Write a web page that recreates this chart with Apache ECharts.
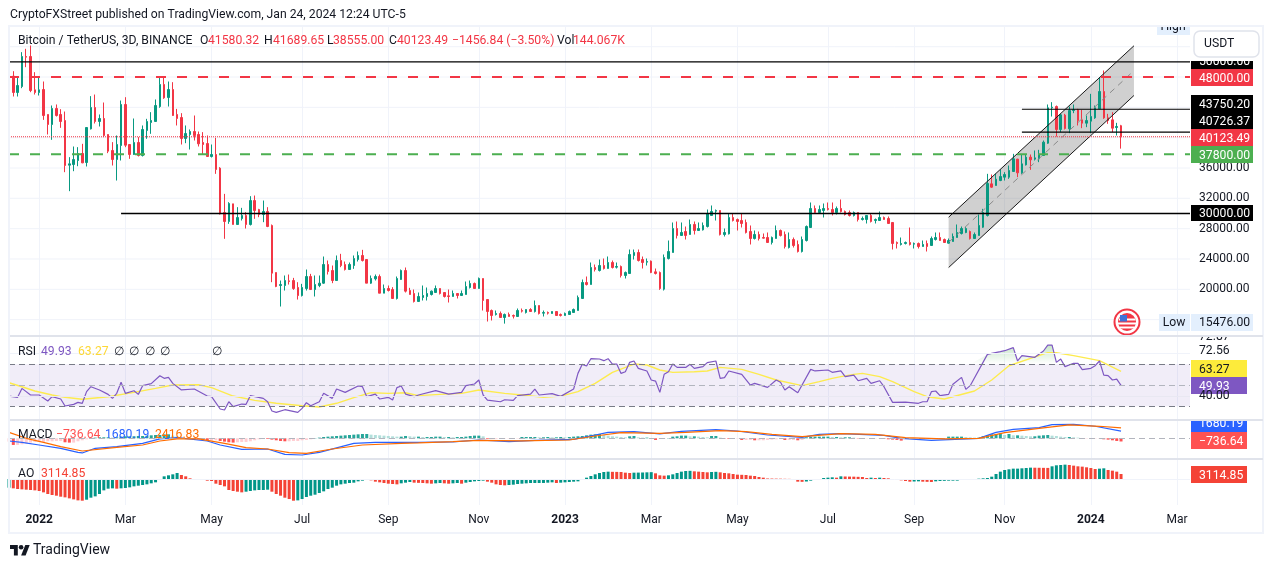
<!DOCTYPE html>
<html>
<head>
<meta charset="utf-8">
<title>BTCUSDT 3D</title>
<script src="https://cdn.jsdelivr.net/npm/echarts@6/dist/echarts.min.js"></script>
<style>
  html, body { margin: 0; padding: 0; background: #fff; }
  #main { width: 1273px; height: 568px; }
</style>
</head>
<body>
<div id="main"></div>
<script>
// [open, close, low, high], one row per 3D bar
const candles = [
  [48420,47760,47540,49300],[48110,45960,45430,48770],[45960,46880,45430,47980],[46750,50710,46530,51280],[50710,50620,49300,51720],
  [50710,46220,46000,52160],[46310,45960,45690,48640],[45960,46310,45560,47890],[46355,42925,42350,47410],[43060,41740,40420,43060],
  [41740,43850,39715,44245],[43850,42925,42790,44380],[43060,42135,41300,43760],[42265,36330,35450,43450],[36375,36550,32945,37430],
  [36460,37120,35580,38835],[36990,37915,36240,38750],[37915,36680,36640,39190],[36725,41340,36200,41340],[41165,43980,41080,45480],
  [43980,42135,41870,45690],[42135,42530,41475,43060],[42530,40290,40070,44640],[40420,38220,37960,40420],[38310,37120,36330,39410],
  [37120,39100,34350,40290],[38970,44380,36990,44900],[44380,39010,38750,45340],[39100,37780,37210,39100],[37780,39365,37735,42530],
  [39365,37650,37520,40070],[37650,41080,37520,41610],[40950,42135,39850,42485],[42000,42265,40510,43365],[42135,44245,42135,45040],
  [44110,47015,43940,48070],[47015,45260,45125,47980],[45300,46355,44110,47410],[46355,42925,42880,47320],[43060,42530,41610,43800],
  [42660,39890,39100,43235],[39890,40550,39275,41610],[40420,40815,38440,41080],[40815,40290,39630,42925],[40420,39190,38835,40815],
  [39365,39100,37780,40730],[39230,37520,37520,40290],[37520,37780,37385,39100],[37780,35800,35230,39980],[35980,29955,29870,36110],
  [30130,28945,26660,32590],[28945,31320,28635,31490],[31275,28550,28550,31275],[28550,29470,28550,30835],[29340,29735,29075,30745],
  [29735,28550,28020,30175],[28550,31710,28415,32285],[31710,30395,29295,32370],[30525,29870,29515,30615],[29870,30260,28855,31710],
  [30260,28285,28200,30835],[28415,22130,20940,28550],[22215,20370,20280,22215],[20500,20630,17730,21160],[20500,21160,19840,21820],
  [21115,21030,20630,21950],[21160,20100,19930,21510],[20240,19180,18650,20940],[19180,20240,19050,20720],[20100,21690,19840,22610],
  [21690,19970,19930,22040],[19970,20630,19050,21820],[20500,20810,20280,21820],[20810,23272,20722,24328],[23272,22349,21953,23800],
  [22481,21162,20810,23140],[21162,23800,21162,24460],[23800,23140,22920,24680],[23272,22613,22481,23668],[22613,23272,22613,23536],
  [23140,24064,22700,24460],[23932,24460,23668,24987],[24460,23800,23668,25207],[23932,20810,20810,23932],[20810,21426,20722,21821],
  [21380,21690,21162,21953],[21690,19491,19491,21953],[19491,20107,19491,20634],[20107,19843,19710,20502],[19975,18787,18787,20283],
  [18787,21426,18655,21690],[21294,22481,21250,22613],[22481,19755,19579,22877],[19843,19315,19315,20195],[19447,18392,18260,19975],
  [18392,19051,18392,19579],[18919,19183,18524,20502],[19051,19447,18524,20239],[19315,19755,19183,19843],[19579,20107,19535,20502],
  [20107,19447,19315,20107],[19579,19051,18919,19623],[19140,19051,18260,19975],[19051,19447,19051,19843],[19447,19183,18787,19447],
  [19183,19447,19183,19843],[19315,20370,19315,21030],[20239,20766,20107,21162],[20766,20107,20107,20898],[20107,21426,20107,21558],
  [21426,18524,17204,21426],[18655,17072,15754,18655],[17204,16545,15885,17336],[16676,16808,16545,17204],[16808,16281,16281,17072],
  [16281,16676,15476,16808],[16676,16413,16413,16940],[16545,16460,16149,16676],[16413,17204,16413,17468],[17204,17116,16940,17468],
  [16940,17336,16808,17336],[17336,17072,17028,17512],[17072,17864,16940,18524],[17864,16808,16676,17864],[16852,16940,16413,17204],
  [16940,16852,16676,17072],[16808,17072,16808,17072],[17072,16545,16545,17072],[16676,16545,16413,16808],[16545,16808,16545,16940],
  [16676,17072,16676,17204],[16940,17336,16940,17468],[17204,18919,17204,19183],[18787,20898,18787,21294],[20898,20634,20502,21690],
  [20634,22877,20634,23536],[22877,22613,22349,23272],[22481,23140,22349,23932],[23140,22745,22613,24064],[22745,23536,22745,24328],
  [23536,22877,22745,23800],[22920,23009,22745,23536],[23009,21821,21558,23140],[21821,22217,21426,22349],[22085,24592,22085,25250],
  [24460,24855,23932,25250],[24855,23800,23668,25250],[23932,23536,22745,24328],[23580,23668,23140,24064],[23712,22217,22129,23800],
  [22305,22085,21953,22745],[22217,20107,19931,22349],[20019,24196,19843,24592],[24064,24987,23932,26438],[24855,28021,24855,28813],
  [28021,27098,26702,28945],[27098,27494,27098,28813],[27626,27098,26570,28285],[27230,28549,27230,29208],[28549,27757,27230,28945],
  [27757,28021,27757,28813],[27845,28417,27757,28813],[28285,29956,28153,30528],[29736,30264,29736,31055],[30308,30396,29076,30528],
  [30396,27230,27098,30396],[27230,27494,26966,28021],[27318,29472,27230,30000],[29472,29076,28945,30000],[29208,28945,27757,29340],
  [29076,28681,28153,30000],[28813,27494,27362,29208],[27626,26702,25911,28417],[26702,27230,26570,27757],[27230,26702,26438,27626],
  [26834,26746,26702,27362],[26834,26174,26174,27494],[26174,26834,25911,26966],[26702,27757,26702,28417],[27757,27098,26966,27889],
  [27230,25647,25383,27626],[25515,26570,25383,27494],[26570,25779,25515,26834],[25911,24987,24855,26438],[24987,26570,24855,26966],
  [26438,28285,26306,28417],[28153,30660,28153,31451],[30660,30132,30000,31055],[30132,30528,30000,31055],[30396,30660,29472,31319],
  [30660,30528,30396,31451],[30528,30132,29736,31451],[30132,30660,29868,30923],[30660,30264,30132,31847],[30264,29868,29736,30396],
  [30132,29736,29604,30396],[29736,30132,29604,30264],[30132,29208,28945,30132],[29208,29340,29076,29604],[29208,29736,28681,29736],
  [29736,28945,28813,30000],[29076,29208,28681,29340],[29076,29472,29076,30264],[29472,29208,29208,29604],[29340,28681,28681,29604],
  [28813,26042,25251,28813],[26174,26042,25383,26306],[25911,26042,25779,26834],[26042,26174,25911,26306],[26174,25911,25779,28153],
  [25955,26042,25383,26174],[26042,25647,25383,26174],[25647,25911,25647,26438],[26042,25647,24987,26438],[25779,26702,25779,26966],
  [26570,26834,26438,27494],[26834,26438,26438,27494],[26570,26174,26174,26702],[26086,26438,26042,26702],[26306,26966,26306,27362],
  [26834,27494,26834,28549],[27360,28020,27228,28284],[27492,28020,27404,28196],[27624,26700,26568,27756],[26700,27228,26700,27492],
  [27096,28416,27096,29866],[28196,30130,28108,30615],[29735,33955,29603,35231],[33911,33472,33384,35143],[33692,34527,33692,35231],
  [34351,34879,34263,35803],[34791,35143,34351,35451],[34791,35671,34571,36330],[35539,37210,35495,37869],[37166,35363,34791,37210],
  [35363,36550,35231,37782],[36418,37430,36330,37782],[37430,37078,35759,37782],[37166,37342,36990,38309],[37210,37782,36770,38397],
  [37650,39408,37606,39628],[39276,43940,39188,44377],[43940,44025,42790,44685],[44110,41079,40155,44245],[41079,43014,40727,43145],
  [42970,41211,41079,43145],[41167,43585,40595,44110],[43585,43673,43234,44377],[43673,42265,41610,43805],[42354,41914,41255,43673],
  [41914,42265,41387,42925],[42179,42790,40595,45784],[42618,43940,42485,44245],[43805,46091,43805,47982],[46091,42618,42485,48862],
  [42618,42265,41827,43145],[42354,41255,40727,43365],[41343,41475,40287,41958],[41580.32,40123.49,38555,41689.65]
];

// RSI and its average, read as [bar, value] vertices
const rsiLine = [
  [0,39.8],[2,38.6],[3,47.1],[5,40.8],[7,40.8],[9,35.1],[10,39.2],[12,37],[13,30.3],[15,31.9],[16,33.8],[17,32.9],[18,44],[19,48.7],
  [21,45.6],[23,41.4],[24,37.6],[25,42.4],[26,52.9],[27,42.4],[29,44.9],[30,41.4],[31,49.7],[33,51.6],[35,59.2],[36,56.7],[37,57.6],
  [38,51.9],[40,45.6],[43,46.5],[46,39.8],[47,39.2],[49,27.5],[50,26.5],[51,34.4],[52,29.7],[54,32.2],[55,31.9],[56,40.2],[59,37.6],
  [60,34.4],[61,25.6],[62,24.3],[64,26.8],[67,24.3],[68,28.1],[69,33.5],[70,30.6],[72,34.4],[73,42.4],[75,37.6],[76,46.5],[78,43.3],
  [81,49.4],[82,48.7],[83,39.2],[85,41.7],[86,37],[88,38.6],[89,36],[90,47.8],[91,49.4],[92,41.7],[94,39.2],[95,40.8],[99,44.9],
  [102,41.7],[105,43.3],[106,49.7],[108,51.3],[109,55.1],[110,40.8],[111,36],[114,34.4],[115,36.3],[117,35.7],[118,40.2],[121,41.7],
  [122,46.5],[123,40.8],[126,42.1],[128,39.5],[131,46.5],[132,61.4],[133,70],[134,68.4],[135,75.4],[137,75.1],[138,73.5],[139,75.4],
  [140,70.3],[141,70.3],[142,61.4],[143,63],[144,71.9],[145,73.2],[146,66.2],[148,63.7],[149,55.1],[150,54.1],[151,43.3],[152,60.5],
  [153,63],[154,70.3],[155,67.1],[157,67.1],[158,70],[159,66.2],[161,67.8],[162,71.6],[164,73.2],[165,56.7],[166,57.3],[167,63.7],
  [170,60.5],[172,50.3],[173,51.9],[176,48.1],[178,55.1],[179,52.9],[180,45.6],[181,48.7],[183,43],[186,65.2],[187,63.7],[190,64.6],
  [191,62.4],[193,63.7],[194,58.3],[196,59.8],[197,54.4],[199,56.7],[200,51.9],[202,54.4],[203,48.7],[205,33.8],[208,34.1],[211,32.9],
  [212,34.4],[213,34.4],[214,44],[215,44.6],[216,40.2],[218,41.4],[219,51],[221,57.6],[222,46.2],[223,49.7],[227,79.5],[228,80.5],
  [230,82.1],[231,83],[233,85.9],[234,73.2],[235,78.3],[238,76.7],[240,82.7],[241,88.4],[242,88.4],[243,71.9],[244,75.1],[245,67.8],
  [247,71],[248,71],[249,64.9],[251,66.2],[252,68.7],[253,73.2],[254,59.8],[255,59.2],[256,55.1],[257,56],[258,49.93]
];
const rsiAverage = [
  [0,52.5],[3,48.7],[6,44.6],[10,40.8],[13,38.6],[17,36.7],[23,39.2],[29,43.3],[34,47.1],[38,50.3],[44,50.6],[47,47.8],[52,39.8],
  [57,35.7],[62,32.9],[68,30.6],[72,29.4],[76,32.9],[80,38.3],[84,43],[88,42.4],[92,43],[95,40.2],[100,41.4],[105,42.4],[109,45.6],
  [115,42.4],[119,40.8],[124,38.6],[128,39.8],[132,44],[136,51.9],[140,62.4],[145,70.3],[148,69.4],[151,64.6],[154,62.4],[159,63],
  [162,63.7],[165,67.1],[170,65.2],[174,60.5],[178,55.1],[184,49.7],[188,53.5],[191,56.7],[193,58.3],[196,60.5],[198,61.4],[202,58.3],
  [205,53.5],[210,44],[213,39.2],[217,37],[224,44.6],[228,55.1],[232,68.7],[237,75.7],[241,81.1],[243,81.1],[247,78.3],[253,73.5],[258,63.27]
];

// MACD and signal, read as [bar, value] vertices
const macdLine = [
  [0,-620],[3,-930],[7,-1550],[12,-2320],[16,-3250],[17,-3400],[20,-2320],[25,-1940],[31,-1160],[35,-150],[39,150],[46,-620],[49,-1550],
  [54,-2550],[60,-2480],[64,-3720],[68,-3870],[72,-3250],[80,-1160],[85,-930],[95,-930],[103,-850],[109,-390],[116,-770],[122,-460],
  [131,-230],[136,770],[139,1390],[145,1550],[151,1010],[156,1630],[164,2010],[169,1700],[176,770],[184,230],[188,930],[193,1080],
  [203,700],[207,0],[214,-460],[225,0],[229,1390],[233,2090],[239,2480],[242,3170],[247,3250],[252,2790],[258,1680.19]
];
const signalLine = [
  [0,1390],[4,0],[8,-930],[12,-1940],[17,-2940],[25,-2090],[31,-1550],[35,-620],[39,-150],[44,-150],[50,-1160],[55,-2170],[60,-2480],
  [65,-3330],[69,-3480],[75,-2480],[82,-1550],[91,-1160],[95,-1080],[103,-770],[109,-460],[119,-620],[130,-390],[136,540],[142,1320],
  [151,1160],[157,1390],[165,1780],[171,1550],[177,930],[184,390],[193,1080],[201,930],[208,150],[217,-150],[225,0],[231,1320],[239,2320],
  [246,3100],[253,2790],[258,2416.83]
];
const macdHist = [
  -770,-1540,-1540,-1386,-1232,-1001,-847,-847,-847,-693,
  -693,-616,-616,-924,-1001,-1001,-693,-462,-231,-77,
  154,231,231,231,154,231,385,462,462,462,
  539,539,616,693,770,770,924,924,616,462,
  231,77,-77,-154,-231,-385,-539,-539,-462,-616,
  -770,-924,-1001,-924,-847,-847,-693,-462,-231,-77,
  -154,-308,-462,-616,-693,-693,-616,-616,-462,-385,
  -231,77,154,308,385,462,539,616,693,770,
  847,924,1001,1001,847,770,693,616,539,462,
  385,385,539,462,385,385,308,308,308,385,
  385,308,308,231,308,308,385,539,616,616,
  462,-154,-154,-154,-154,-77,-77,-77,-77,308,
  308,308,308,231,231,308,231,231,308,231,
  308,385,462,539,693,847,924,1001,770,616,
  462,385,308,231,462,539,231,154,154,77,
  -385,-77,-77,77,385,462,616,616,462,462,
  385,308,231,539,539,154,-77,-154,-77,-77,
  -385,-385,-385,-462,-462,-462,-385,-308,-231,-154,
  -385,-385,-385,-462,-385,231,308,385,385,385,
  385,308,308,231,231,231,154,-77,-77,-77,
  -77,-77,-77,-154,-231,-308,-385,-539,-77,-77,
  -50,-40,-40,-30,-30,-20,-20,-20,385,385,
  385,385,308,231,154,154,462,770,924,1001,
  1078,770,1001,693,693,616,539,462,462,616,
  693,770,616,539,385,308,308,231,154,-77,
  -77,-77,-77,-77,-231,-308,-462,-616,-736.64
];
const aoValues = [
  -5408,-5824,-6240,-6448,-6656,-6864,-7072,-7488,-8320,-9360,
  -9984,-10400,-11024,-11440,-12064,-12688,-13312,-13520,-12896,-11648,
  -10816,-9360,-7072,-6032,-5824,-6032,-5824,-5616,-5200,-4576,
  -4160,-3744,-3328,-2704,-2080,-624,1664,2288,2912,3744,
  2496,1664,416,-100,-416,-624,-1040,-1248,-2912,-3744,
  -4576,-6864,-7488,-7904,-8320,-7904,-7488,-7072,-6864,-6864,
  -6656,-7904,-9360,-10400,-11648,-12480,-13520,-13312,-12480,-11232,
  -10400,-9776,-8736,-7696,-6240,-5408,-4160,-3328,-2912,-2496,
  -2288,-1456,-1040,-624,-832,-1664,-2080,-2496,-2912,-3120,
  -3328,-2704,-2288,-1872,-2288,-2392,-2496,-2704,-2912,-2704,
  -2496,-2704,-2912,-2704,-2496,-2912,-2288,-1872,-1456,-1248,
  -1040,-1664,-2288,-3328,-3744,-3952,-3744,-3536,-3120,-2912,
  -2704,-2496,-2490,-2480,-2470,-2288,-2080,-2496,-2288,-2080,
  -1872,-1664,-1456,-416,832,1872,2912,3744,4368,4576,
  4472,4430,4368,3952,3744,3952,3994,4056,4160,4264,
  3536,2288,2080,2288,2912,3744,4576,4992,5096,4784,
  4576,4368,4160,4368,4472,4160,3744,3536,3120,2704,
  2600,2496,2080,1872,1248,832,312,270,229,187,
  125,83,-624,-1664,-1768,-1560,-1040,-624,0,624,
  832,1040,832,1664,1560,1498,1456,1352,1248,624,
  832,624,832,624,416,-104,-416,-832,-1248,-1664,
  -1560,-1456,-1664,-1768,-1872,-1456,-1248,-1144,-1040,-1030,
  -1020,-624,-416,-410,0,208,416,624,1456,3120,
  4576,5616,6032,6448,6460,6656,6864,7072,7030,6990,
  6950,6910,7904,8528,8736,8944,8736,8320,7904,7696,
  7280,6864,6240,6448,6656,5616,5200,4576,3114.85
];

const barCount = 275;
const monthTickIndex = [7, 27, 47, 68, 88, 109, 129, 149, 169, 190, 210, 231, 251, 271];
const monthTickLabels = ['2022', 'Mar', 'May', 'Jul', 'Sep', 'Nov', '2023', 'Mar', 'May', 'Jul', 'Sep', 'Nov', '2024', 'Mar'];
const priceGridTicks = [16000, 20000, 24000, 28000, 32000, 36000, 40000, 44000, 48000, 52000];
const priceTickLabels = [20000, 24000, 28000, 32000, 36000];

// drawings on the price pane
const channelUpper = [[218, 29512], [261, 52124]];
const channelLower = [[218, 22876], [261, 45567]];
const channelMiddle = [[218, 26194], [261, 48846]];
const level50000 = 50000;
const level48000 = 48000;
const level43750 = 43750.2;
const level40726 = 40726.37;
const level37800 = 37800;
const level30000 = 30000;
const lastClose = 40123.49;

const RED = '#f23645';
const GREEN = '#089981';
const FONT = 'Roboto, sans-serif';
const TEXT_FONT = '12.2px ' + FONT;
const lastIndex = barCount - 1;
const categories = Array.from({ length: barCount }, function (_, i) { return String(i); });

const hLine = function (start, price, color, width, type) {
  return {
    type: 'line',
    xAxisIndex: 0,
    yAxisIndex: 0,
    z: 5,
    silent: true,
    symbol: 'none',
    animation: false,
    lineStyle: { color: color, width: width, type: type || 'solid' },
    data: [[start, price], [lastIndex, price]]
  };
};
const channelEdge = function (points, color, type) {
  return {
    type: 'line',
    xAxisIndex: 0,
    yAxisIndex: 0,
    z: 4,
    silent: true,
    symbol: 'none',
    animation: false,
    lineStyle: { color: color, width: 1, type: type || 'solid' },
    data: points
  };
};
const indicatorLine = function (axis, points, color, width, extra) {
  return Object.assign({
    type: 'line',
    xAxisIndex: axis,
    yAxisIndex: axis,
    silent: true,
    symbol: 'none',
    animation: false,
    lineStyle: { color: color, width: width },
    data: points
  }, extra || {});
};

const xAxisFor = function (gridIndex, withLabels) {
  return {
    type: 'category',
    gridIndex: gridIndex,
    data: categories,
    boundaryGap: false,
    axisLine: { show: false },
    axisTick: { show: false },
    splitLine: {
      show: true,
      interval: function (i) { return monthTickIndex.includes(i); },
      lineStyle: { color: '#f0f3fa', width: 1 }
    },
    axisLabel: {
      show: withLabels,
      margin: 9,
      interval: function (i) { return monthTickIndex.includes(i); },
      formatter: function (value) {
        const label = monthTickLabels[monthTickIndex.indexOf(Number(value))];
        return /^\d/.test(label) ? '{year|' + label + '}' : label;
      },
      color: '#131722',
      fontFamily: FONT,
      fontSize: 12,
      rich: { year: { fontFamily: FONT, fontSize: 12, fontWeight: 'bold', color: '#131722' } }
    }
  };
};
const hiddenY = function (gridIndex, min, max) {
  return { type: 'value', gridIndex: gridIndex, min: min, max: max, show: false, splitLine: { show: false } };
};

const gridSeries = priceGridTicks.map(function (tick) {
  return {
    type: 'line',
    xAxisIndex: 0,
    yAxisIndex: 0,
    z: 0,
    silent: true,
    symbol: 'none',
    animation: false,
    lineStyle: { color: '#f0f3fa', width: 1 },
    data: [[0, tick], [lastIndex, tick]]
  };
});

const series = gridSeries.concat([
  {
    type: 'custom',
    xAxisIndex: 0,
    yAxisIndex: 0,
    z: 1,
    silent: true,
    animation: false,
    encode: { x: 0, y: 1 },
    data: [channelUpper[0], channelUpper[1], channelLower[1], channelLower[0]],
    renderItem: function (params, api) {
      if (params.dataIndex !== 0) {
        return;
      }
      const corners = [channelUpper[0], channelUpper[1], channelLower[1], channelLower[0]];
      return {
        type: 'polygon',
        shape: { points: corners.map(function (c) { return api.coord(c); }) },
        style: { fill: 'rgba(110,110,110,0.32)' }
      };
    }
  },
  {
    type: 'candlestick',
    xAxisIndex: 0,
    yAxisIndex: 0,
    z: 3,
    silent: true,
    animation: false,
    barWidth: 2,
    itemStyle: {
      color: GREEN,
      color0: RED,
      borderColor: GREEN,
      borderColor0: RED,
      borderColorDoji: RED,
      borderWidth: 1
    },
    data: candles
  },
  channelEdge(channelUpper, '#1a1a1a'),
  channelEdge(channelLower, '#1a1a1a'),
  channelEdge(channelMiddle, '#8a8a8a', [6, 5]),
  hLine(0, lastClose, RED, 1, 'dotted'),
  hLine(0, level50000, '#000', 1.4),
  hLine(0, level48000, RED, 2, [10, 11]),
  hLine(0, level37800, '#4caf50', 2, [10, 11]),
  hLine(26, level30000, '#000', 1.4),
  hLine(235, level43750, '#000', 1.2),
  hLine(235, level40726, '#000', 1.2),

  // RSI pane
  indicatorLine(1, rsiLine.map(function (p) { return [p[0], Math.max(p[1], 70)]; }), 'transparent', 0, {
    z: 1,
    areaStyle: {
      origin: 70,
      color: {
        type: 'linear', global: true, x: 0, y: 345, x2: 0, y2: 364,
        colorStops: [{ offset: 0, color: 'rgba(76,175,80,0.45)' }, { offset: 1, color: 'rgba(76,175,80,0)' }]
      }
    }
  }),
  indicatorLine(1, rsiAverage, '#fdeb4e', 1.4, { z: 3 }),
  indicatorLine(1, rsiLine, '#7e57c2', 1.2, {
    z: 4,
    markArea: {
      silent: true,
      itemStyle: { color: 'rgba(126,87,194,0.11)' },
      data: [[{ yAxis: 70 }, { yAxis: 30 }]]
    },
    markLine: {
      silent: true,
      symbol: 'none',
      animation: false,
      label: { show: false },
      data: [
        { yAxis: 81, lineStyle: { color: '#f0f3fa', width: 1, type: 'solid' } },
        { yAxis: 40, lineStyle: { color: '#e9e8f2', width: 1, type: 'solid' } },
        { yAxis: 70, lineStyle: { color: '#787b86', width: 1, type: [6, 4] } },
        { yAxis: 50, lineStyle: { color: '#b2b5be', width: 1, type: [6, 4] } },
        { yAxis: 30, lineStyle: { color: '#787b86', width: 1, type: [6, 4] } }
      ]
    }
  }),

  // MACD pane
  {
    type: 'bar',
    xAxisIndex: 2,
    yAxisIndex: 2,
    silent: true,
    animation: false,
    barWidth: 3,
    data: macdHist,
    itemStyle: {
      color: function (p) {
        const prev = p.dataIndex > 0 ? macdHist[p.dataIndex - 1] : p.value;
        if (p.value >= 0) {
          return p.value >= prev ? '#26a69a' : '#b2dfdb';
        }
        return p.value >= prev ? '#ffcdd2' : '#ff5252';
      }
    },
    markLine: {
      silent: true,
      symbol: 'none',
      animation: false,
      label: { show: false },
      lineStyle: { color: '#b2b5be', width: 1, type: [6, 4] },
      data: [{ yAxis: 0 }]
    }
  },
  indicatorLine(2, macdLine, '#2962ff', 1.2, { z: 4 }),
  indicatorLine(2, signalLine, '#ff6d00', 1.2, { z: 5 }),

  // AO pane
  {
    type: 'bar',
    xAxisIndex: 3,
    yAxisIndex: 3,
    silent: true,
    animation: false,
    barWidth: 3,
    data: aoValues,
    itemStyle: {
      color: function (p) {
        const prev = p.dataIndex > 0 ? aoValues[p.dataIndex - 1] : p.value - 1;
        return p.value >= prev ? '#009688' : '#f44336';
      }
    },
    markLine: {
      silent: true,
      symbol: 'none',
      animation: false,
      label: { show: false },
      lineStyle: { color: '#f0f3fa', width: 1, type: 'solid' },
      data: [{ yAxis: 0 }]
    }
  }
]);

// page furniture: text, price tags, frame. y + 1 sits the text on the same baseline as the original
const label = function (text, x, y, color, font, align, z) {
  return {
    type: 'text', x: x, y: y + 1, z: z || 60, silent: true,
    style: { text: text, fill: color, font: font || TEXT_FONT, align: align || 'left', verticalAlign: 'middle' }
  };
};
const box = function (x, y, w, h, fill, z) {
  return { type: 'rect', z: z || 58, silent: true, shape: { x: x, y: y, width: w, height: h }, style: { fill: fill } };
};
const tag = function (text, top, bottom, fill, color, textY) {
  return [
    box(1191, top, 62, bottom - top, fill),
    label(text, 1199, textY === undefined ? (top + bottom) / 2 : textY, color)
  ];
};
const smallTag = function (text, top, bottom, fill, color, textY) {
  return [
    box(1191, top, 56, bottom - top, fill),
    label(text, 1199, textY === undefined ? (top + bottom) / 2 : textY, color)
  ];
};

const headerItems = [
  ['Bitcoin / TetherUS, 3D, BINANCE', 18, '#131722'], ['O', 200, '#131722'], ['41580.32', 208, RED],
  ['H', 264, '#131722'], ['41689.65', 273, RED], ['L', 327, '#131722'], ['38555.00', 333, RED],
  ['C', 389, '#131722'], ['40123.49', 397, RED], ['\u22121456.84 (\u22123.50%)', 452, RED],
  ['Vol', 557, '#131722'], ['144.067K', 573, RED]
];
const rsiLegend = [['RSI', 18, '#131722'], ['49.93', 41, '#7e57c2'], ['63.27', 78, '#fdd835'],
  ['\u2205', 113.5, '#131722'], ['\u2205', 129, '#131722'], ['\u2205', 145, '#131722'], ['\u2205', 160, '#131722'], ['\u2205', 212, '#131722']];
const macdLegend = [['MACD', 18, '#131722'], ['\u2212736.64', 56, '#ff5252'], ['1680.19', 105, '#2962ff'], ['2416.83', 155, '#ff6d00']];
const aoLegend = [['AO', 18, '#131722'], ['3114.85', 41, '#f44336']];

const legendRow = function (items, y) {
  return items.map(function (it) { return label(it[0], it[1], y, it[2]); });
};

const graphicItems = [].concat(
  label('CryptoFXStreet published on TradingView.com, Jan 24, 2024 12:24 UTC-5', 10, 14, '#131722'),
  legendRow(headerItems, 40),
  legendRow(rsiLegend, 351),
  legendRow(macdLegend, 434),
  legendRow(aoLegend, 473),

  // price axis tags
  tag('50000.00', 60, 69, '#000', '#fff', 61),
  tag('48000.00', 69, 86, RED, '#fff'),
  tag('43750.20', 95, 112, '#000', '#fff'),
  tag('40726.37', 112, 129, '#000', '#fff'),
  tag('40123.49', 129, 146, RED, '#fff'),
  tag('37800.00', 146, 163, '#4caf50', '#fff'),
  tag('30000.00', 205, 221, '#000', '#fff'),

  // High / Low markers
  box(1157, 20, 33, 15, '#e3effd'),
  label('High', 1173, 26, '#131722', TEXT_FONT, 'center'),
  box(1159, 314, 31, 17, '#e3effd'),
  label('Low', 1174, 322, '#131722', TEXT_FONT, 'center'),
  box(1191, 314, 62, 17, '#e3effd'),
  label('15476.00', 1199, 322, '#131722'),

  // indicator axis
  label('72.87', 1199, 336, '#131722'),
  label('72.56', 1199, 350, '#131722'),
  label('40.00', 1199, 395, '#131722'),
  smallTag('63.27', 360, 377, '#fdeb3b', '#131722'),
  smallTag('49.93', 377, 394, '#7e57c2', '#fff'),
  smallTag('1680.19', 421, 432, '#2962ff', '#fff', 423),
  smallTag('\u2212736.64', 432, 449, '#ff5252', '#fff'),
  smallTag('3114.85', 466, 483, '#f44336', '#fff'),

  // white covers that trim the clipped tags
  box(1191, 331, 62, 5, '#fff', 61),
  box(1191, 405, 62, 15, '#fff', 61),
  box(1191, 27, 72, 34, '#fff', 61),
  box(1150, 10, 60, 16, '#fff', 61),

  // economic events flag
  { type: 'circle', z: 62, silent: true, shape: { cx: 1127, cy: 322, r: 12.5 }, style: { fill: '#fff', stroke: RED, lineWidth: 2 } },
  { type: 'circle', z: 62, silent: true, shape: { cx: 1127, cy: 322, r: 9 }, style: { fill: RED } },
  box(1119, 318.5, 16.5, 2, '#fff', 63),
  box(1118, 322.5, 18, 2, '#fff', 63),
  box(1120, 326.5, 14, 2, '#fff', 63),
  box(1120, 315, 7, 6.5, '#3f72d8', 64),

  // frame and pane separators
  { type: 'rect', z: 70, silent: true, shape: { x: 9, y: 26, width: 1254, height: 507 }, style: { fill: 'none', stroke: '#f0f3fa', lineWidth: 2 } },
  { type: 'line', z: 70, silent: true, shape: { x1: 10, y1: 336, x2: 1263, y2: 336 }, style: { stroke: '#e0e3eb', lineWidth: 2 } },
  { type: 'line', z: 70, silent: true, shape: { x1: 10, y1: 420, x2: 1263, y2: 420 }, style: { stroke: '#e0e3eb', lineWidth: 2 } },
  { type: 'line', z: 70, silent: true, shape: { x1: 10, y1: 459, x2: 1263, y2: 459 }, style: { stroke: '#e0e3eb', lineWidth: 2 } },

  // currency button
  { type: 'rect', z: 71, silent: true, shape: { x: 1194, y: 31, width: 65, height: 26, r: 6 }, style: { fill: '#fff', stroke: '#e0e3eb', lineWidth: 1.5 } },
  label('USDT', 1204, 43, '#131722', TEXT_FONT, 'left', 72),

  // logo
  { type: 'polygon', z: 60, silent: true, shape: { points: [[17.8, 555.5], [13.9, 555.5], [13.9, 549.1], [10, 549.1], [10, 545], [17.8, 545]] }, style: { fill: '#131722' } },
  { type: 'polygon', z: 60, silent: true, shape: { points: [[25.6, 555.5], [21.1, 555.5], [25.3, 545], [29.7, 545]] }, style: { fill: '#131722' } },
  { type: 'circle', z: 60, silent: true, shape: { cx: 21.1, cy: 547.3, r: 2.3 }, style: { fill: '#131722' } },
  label('TradingView', 33, 549, '#131722', '14px ' + FONT)
);

const chart = echarts.init(document.getElementById('main'), null, { renderer: 'canvas' });
chart.setOption({
  animation: false,
  backgroundColor: '#fff',
  tooltip: { show: false },
  grid: [
    { left: 9, width: 1181, top: 27, height: 309 },
    { left: 9, width: 1181, top: 336, height: 84 },
    { left: 9, width: 1181, top: 420, height: 40 },
    { left: 9, width: 1181, top: 460, height: 45 }
  ],
  xAxis: [xAxisFor(0, false), xAxisFor(1, false), xAxisFor(2, false), xAxisFor(3, true)],
  yAxis: [
    {
      type: 'value',
      gridIndex: 0,
      position: 'right',
      min: 13842,
      max: 54599,
      axisLine: { show: false },
      axisTick: { show: false },
      splitLine: { show: false },
      axisLabel: {
        customValues: priceTickLabels,
        margin: 9,
        padding: [2, 0, 0, 0],
        color: '#131722',
        fontFamily: FONT,
        fontSize: 12,
        formatter: function (v) { return v.toFixed(2); }
      }
    },
    hiddenY(1, 17, 97),
    hiddenY(2, -5034, 4246),
    hiddenY(3, -16198, 11837)
  ],
  series: series,
  graphic: { elements: graphicItems }
});
</script>
</body>
</html>
